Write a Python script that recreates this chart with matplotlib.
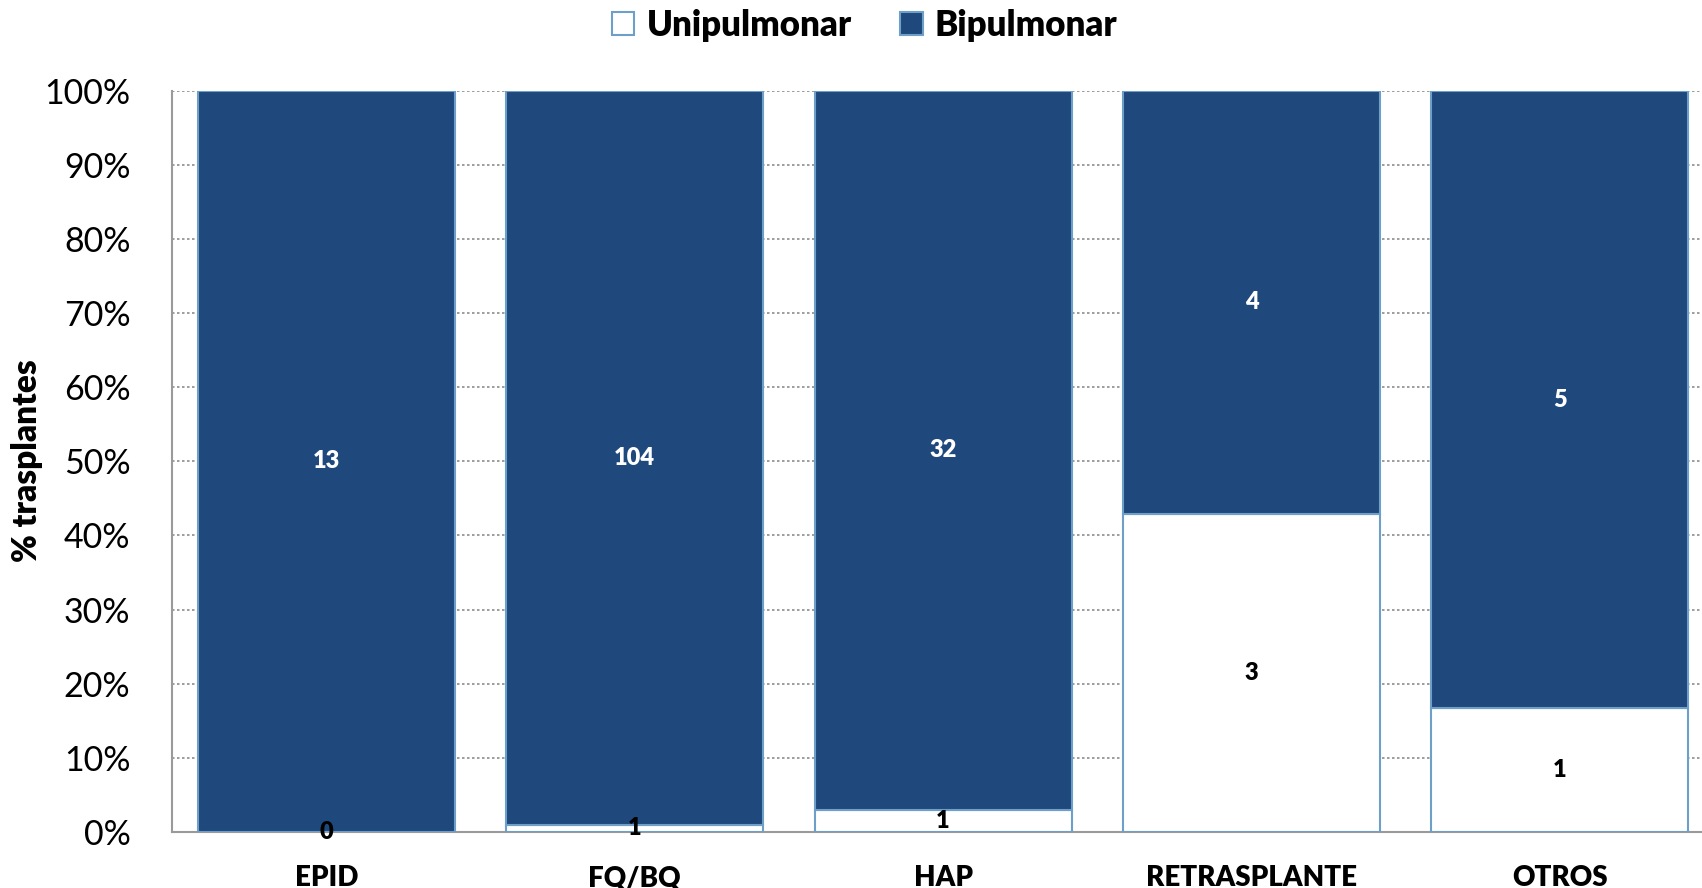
import numpy as np
import matplotlib.pyplot as plt
from matplotlib.ticker import PercentFormatter

categorias = ['EPID', 'FQ/BQ', 'HAP', 'RETRASPLANTE', 'OTROS']
unipulmonar = [0, 1, 1, 3, 1]
bipulmonar = [13, 104, 32, 4, 5]

uni = np.array(unipulmonar, dtype=float)
bi = np.array(bipulmonar, dtype=float)
total = uni + bi
pct_uni = uni / total * 100
pct_bi = bi / total * 100

plt.rcParams['font.family'] = ['Lato', 'DejaVu Sans']

fig = plt.figure(figsize=(17.02, 8.88), dpi=100)
ax = fig.add_axes([0.1011, 0.0631, 0.906, 0.8348])

x = np.arange(len(categorias))
w = 0.833
edge = '#6d9fc9'
dark = '#1f497d'

b1 = ax.bar(x, pct_uni, w, color='white', edgecolor=edge, linewidth=1.5,
            label='Unipulmonar', zorder=3)
b2 = ax.bar(x, pct_bi, w, bottom=pct_uni, color=dark, edgecolor=edge,
            linewidth=1.5, label='Bipulmonar', zorder=3)

for i in range(len(categorias)):
    ax.text(x[i], pct_uni[i] / 2, str(unipulmonar[i]), ha='center', va='center',
            fontsize=17, fontweight='heavy', color='black', zorder=5)
    ax.text(x[i], pct_uni[i] + pct_bi[i] / 2, str(bipulmonar[i]), ha='center',
            va='center', fontsize=17, fontweight='heavy', color='white', zorder=5)

ax.set_xlim(-0.5, 4.5)
ax.set_ylim(0, 100)
ax.set_yticks(np.arange(0, 101, 10))
ax.yaxis.set_major_formatter(PercentFormatter(decimals=0))
ax.set_xticks(x)
ax.set_xticklabels(categorias, fontsize=20, fontweight='heavy')
ax.tick_params(axis='y', length=0, labelsize=24.5, pad=30)
ax.tick_params(axis='x', length=0, pad=24)
ax.yaxis.grid(True, linestyle=(0, (1.5, 1.5)), color='#8c8c8c', linewidth=1.2, zorder=0)
ax.set_axisbelow(True)

for s in ['top', 'right']:
    ax.spines[s].set_visible(False)
for s in ['left', 'bottom']:
    ax.spines[s].set_color('#9a9a9a')
    ax.spines[s].set_linewidth(1.5)

fig.text(0.016, 0.481, '% trasplantes', rotation=90, ha='center', va='center',
         fontsize=24, fontweight='heavy')

fig.legend(handles=[b1, b2], loc='upper center', bbox_to_anchor=(0.508, 1.025),
           ncol=2, frameon=False, prop={'size': 25, 'weight': 'heavy'},
           handlelength=0.65, handleheight=0.65, handletextpad=0.35, columnspacing=1.4)

fig.savefig('out.png', dpi=100)
